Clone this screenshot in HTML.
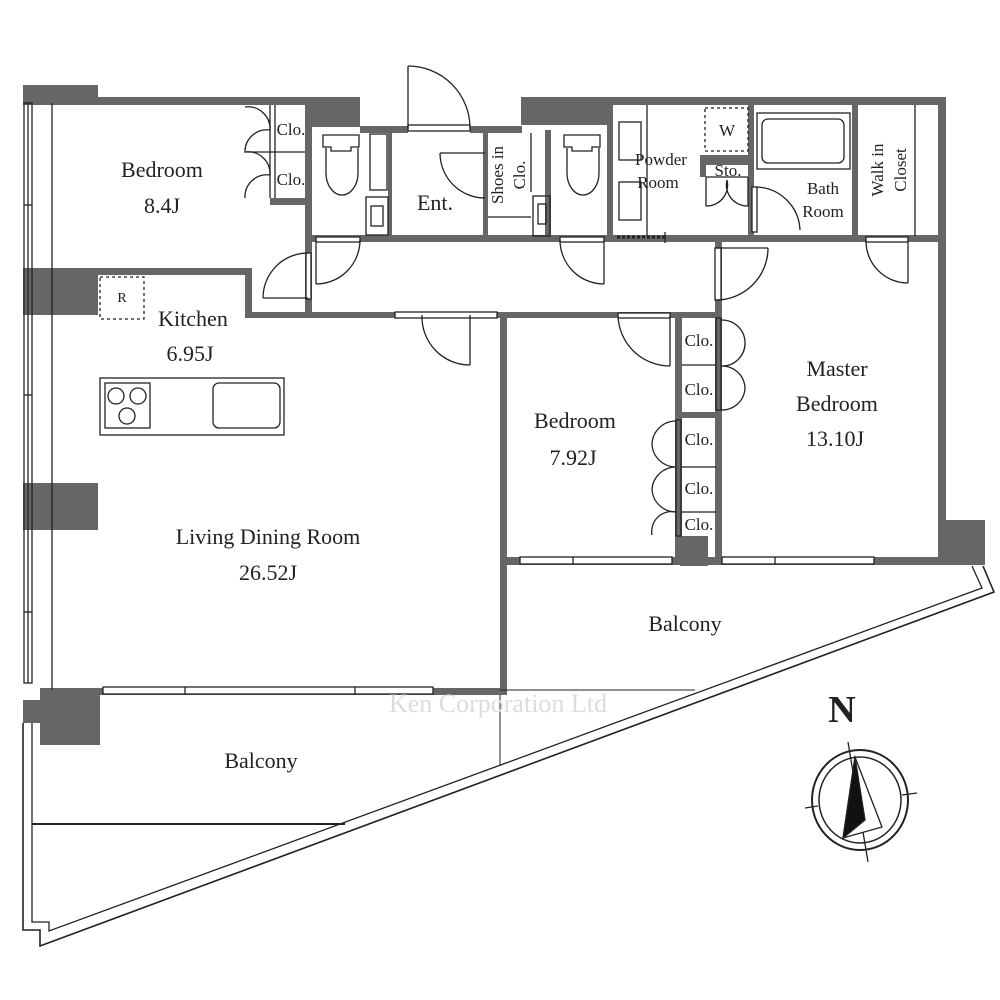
<!DOCTYPE html>
<html><head><meta charset="utf-8"><style>
html,body{margin:0;padding:0;background:#fff;}
svg{display:block;}
text{font-family:"Liberation Serif",serif;fill:#222;}
</style></head><body>
<svg width="1000" height="1000" viewBox="0 0 1000 1000" xmlns="http://www.w3.org/2000/svg">
<g fill="#666" stroke="none">
<rect x="23" y="85" width="75" height="20"/>
<rect x="55" y="97" width="305" height="8"/>
<rect x="305" y="97" width="55" height="30"/>
<rect x="360" y="126" width="48" height="7"/>
<rect x="470" y="126" width="52" height="7"/>
<rect x="521" y="97" width="425" height="8"/>
<rect x="521" y="97" width="91" height="28"/>
<rect x="938" y="97" width="8" height="465"/>
<rect x="938" y="520" width="47" height="45"/>
<rect x="23" y="268" width="75" height="47"/>
<rect x="98" y="268" width="152" height="7"/>
<rect x="245" y="268" width="7" height="50"/>
<rect x="245" y="312" width="150" height="6"/>
<rect x="497" y="312" width="223" height="6"/>
<rect x="23" y="483" width="75" height="47"/>
<rect x="40" y="688" width="60" height="57"/>
<rect x="23" y="700" width="20" height="23"/>
<rect x="305" y="125" width="7" height="193"/>
<rect x="305" y="235" width="640" height="7"/>
<rect x="388" y="127" width="4" height="110"/>
<rect x="483" y="130" width="5" height="108"/>
<rect x="545" y="130" width="6" height="108"/>
<rect x="607" y="103" width="6" height="135"/>
<rect x="748" y="103" width="6" height="135"/>
<rect x="852" y="103" width="6" height="135"/>
<rect x="700" y="155" width="52" height="10"/>
<rect x="700" y="155" width="6" height="22"/>
<rect x="270" y="198" width="36" height="7"/>
<rect x="715" y="238" width="7" height="80"/>
<rect x="500" y="312" width="7" height="383"/>
<rect x="675" y="312" width="7" height="253"/>
<rect x="715" y="312" width="7" height="248"/>
<rect x="675" y="412" width="45" height="6"/>
<rect x="680" y="536" width="28" height="30"/>
<rect x="500" y="557" width="445" height="8"/>
<rect x="40" y="688" width="467" height="7"/>
</g>
<g fill="none" stroke="#222" stroke-width="1.3">
<rect x="24" y="103" width="8" height="580"/>
<line x1="28" y1="103" x2="28" y2="683"/>
<line x1="52" y1="103" x2="52" y2="690"/>
<line x1="24" y1="205" x2="32" y2="205"/>
<line x1="24" y1="395" x2="32" y2="395"/>
<line x1="24" y1="612" x2="32" y2="612"/>
<polyline points="23,723 23,930 40,930 40,946 994,592 983,566" stroke-width="1.6"/>
<polyline points="32,723 32,922 49,922 49,931 982,588 972,566" stroke-width="1.3"/>
<line x1="32" y1="824" x2="345" y2="824" stroke-width="2"/>
<line x1="500" y1="695" x2="500" y2="766" stroke-width="1"/>
<line x1="500" y1="690" x2="695" y2="690" stroke-width="1"/>
<rect x="103" y="687" width="330" height="7" fill="#fff"/>
<line x1="185" y1="687" x2="185" y2="694"/><line x1="355" y1="687" x2="355" y2="694"/>
<rect x="520" y="557" width="152" height="7" fill="#fff"/>
<line x1="573" y1="557" x2="573" y2="564"/>
<rect x="722" y="557" width="152" height="7" fill="#fff"/>
<line x1="775" y1="557" x2="775" y2="564"/>
<rect x="408" y="125" width="62" height="6" fill="#fff"/>
<line x1="408" y1="128" x2="408" y2="66"/>
<path d="M408,66 A62,62 0 0 1 470,128"/>
<line x1="440" y1="153" x2="485" y2="153"/>
<path d="M440,153 A45,45 0 0 0 485,198"/>
<rect x="316" y="237" width="44" height="5" fill="#fff"/>
<line x1="316" y1="240" x2="316" y2="284"/>
<path d="M360,240 A44,44 0 0 1 316,284"/>
<rect x="560" y="237" width="44" height="5" fill="#fff"/>
<line x1="604" y1="240" x2="604" y2="284"/>
<path d="M560,240 A44,44 0 0 0 604,284"/>
<rect x="306" y="253" width="5" height="46" fill="#fff"/>
<line x1="263" y1="298" x2="308" y2="298"/>
<path d="M308,253 A45,45 0 0 0 263,298"/>
<rect x="715" y="248" width="6" height="52" fill="#fff"/>
<line x1="716" y1="248" x2="768" y2="248"/>
<path d="M768,248 A52,52 0 0 1 716,300"/>
<rect x="866" y="237" width="42" height="5" fill="#fff"/>
<line x1="908" y1="240" x2="908" y2="283"/>
<path d="M866,240 A42,42 0 0 0 908,283"/>
<rect x="395" y="312" width="102" height="6" fill="#fff"/>
<line x1="470" y1="315" x2="470" y2="365"/>
<path d="M422,315 A48,48 0 0 0 470,365"/>
<rect x="618" y="313" width="52" height="5" fill="#fff"/>
<line x1="670" y1="316" x2="670" y2="366"/>
<path d="M618,316 A52,52 0 0 0 670,366"/>
<rect x="752" y="187" width="5" height="45" fill="#fff"/>
<path d="M757,187 A45,45 0 0 1 800,230"/>
<line x1="706" y1="177" x2="748" y2="177"/>
<path d="M706,177 L706,206 A21,21 0 0 0 727,180 M748,177 L748,206 A21,21 0 0 1 727,180"/>
<line x1="617" y1="237" x2="665" y2="237" stroke-dasharray="3,2" stroke-width="3"/>
<line x1="665" y1="232" x2="665" y2="243"/>
<rect x="757" y="113" width="93" height="56"/>
<rect x="762" y="119" width="82" height="44" rx="6"/>
<line x1="915" y1="105" x2="915" y2="236"/>
<line x1="647" y1="105" x2="647" y2="236"/>
<rect x="619" y="122" width="22" height="38"/>
<rect x="619" y="182" width="22" height="38"/>
<rect x="705" y="108" width="43" height="43" stroke-dasharray="3,3"/>
<path d="M323,135 h36 v12 h-8 v4 h-20 v-4 h-8 z"/>
<path d="M326,148 v25 a16,22 0 0 0 32,0 v-25"/>
<path d="M564,135 h36 v12 h-8 v4 h-20 v-4 h-8 z"/>
<path d="M567,148 v25 a16,22 0 0 0 32,0 v-25"/>
<rect x="370" y="134" width="17" height="56"/>
<rect x="366" y="197" width="22" height="38"/>
<rect x="371" y="206" width="12" height="20"/>
<rect x="533" y="196" width="17" height="40"/>
<rect x="538" y="204" width="8" height="20"/>
<line x1="531" y1="133" x2="531" y2="192"/>
<line x1="488" y1="217" x2="531" y2="217"/>
<line x1="270" y1="105" x2="270" y2="198"/>
<line x1="275" y1="105" x2="275" y2="198"/>
<line x1="245" y1="152" x2="305" y2="152"/>
<path d="M245,107 A22,22 0 0 1 270,130 A22,22 0 0 0 245,152 A22,22 0 0 1 270,175 A22,22 0 0 0 245,198"/>
<rect x="100" y="277" width="44" height="42" stroke-dasharray="3,3"/>
<rect x="100" y="378" width="184" height="57"/>
<rect x="105" y="383" width="45" height="45"/>
<circle cx="116" cy="396" r="8"/><circle cx="138" cy="396" r="8"/><circle cx="127" cy="416" r="8"/>
<rect x="213" y="383" width="67" height="45" rx="6"/>
<rect x="716" y="318" width="5" height="92"/>
<line x1="682" y1="365" x2="716" y2="365"/>
<path d="M721,320 A23,23 0 0 1 745,342 A23,23 0 0 1 721,366 A23,23 0 0 1 745,388 A23,23 0 0 1 721,410"/>
<rect x="676" y="420" width="5" height="116"/>
<line x1="682" y1="467" x2="716" y2="467"/>
<line x1="682" y1="512" x2="716" y2="512"/>
<path d="M676,421 A24,24 0 0 0 652,445 A24,24 0 0 0 676,467 A24,24 0 0 0 652,490 A24,24 0 0 0 676,512 A20,20 0 0 0 652,535"/>
<ellipse cx="860" cy="800" rx="48" ry="50" stroke-width="2"/>
<ellipse cx="860" cy="800" rx="41" ry="43" stroke-width="1.5"/>
<line x1="848" y1="742" x2="868" y2="862"/>
<line x1="805" y1="808" x2="818" y2="806"/>
<line x1="902" y1="795" x2="917" y2="793"/>
<path d="M855,757 L843,838 L882,827 Z" fill="#fff"/>
<path d="M855,757 L843,838 L865,820 Z" fill="#111"/>
</g>
<g font-size="22" text-anchor="middle">
<text x="162" y="177">Bedroom</text>
<text x="162" y="213">8.4J</text>
<text x="193" y="326">Kitchen</text>
<text x="190" y="361">6.95J</text>
<text x="268" y="544">Living Dining Room</text>
<text x="268" y="580">26.52J</text>
<text x="575" y="428">Bedroom</text>
<text x="573" y="465">7.92J</text>
<text x="837" y="376">Master</text>
<text x="837" y="411">Bedroom</text>
<text x="835" y="446">13.10J</text>
<text x="435" y="210">Ent.</text>
<text x="685" y="631">Balcony</text>
<text x="261" y="768">Balcony</text>
</g>
<g font-size="17" text-anchor="middle">
<text x="291" y="135">Clo.</text>
<text x="291" y="185">Clo.</text>
<text x="699" y="346">Clo.</text>
<text x="699" y="395">Clo.</text>
<text x="699" y="445">Clo.</text>
<text x="699" y="494">Clo.</text>
<text x="699" y="530">Clo.</text>
<text x="661" y="165">Powder</text>
<text x="658" y="188">Room</text>
<text x="728" y="176">Sto.</text>
<text x="823" y="194">Bath</text>
<text x="823" y="217">Room</text>
<text x="727" y="136">W</text>
<text x="122" y="302" font-size="14">R</text>
<text transform="translate(503,175) rotate(-90)" x="0" y="0">Shoes in</text>
<text transform="translate(525,175) rotate(-90)" x="0" y="0">Clo.</text>
<text transform="translate(883,170) rotate(-90)" x="0" y="0">Walk in</text>
<text transform="translate(906,170) rotate(-90)" x="0" y="0">Closet</text>
</g>
<text x="498" y="712" font-size="26" text-anchor="middle" style="fill:#ddd">Ken Corporation Ltd</text>
<text x="842" y="722" font-size="38" font-weight="bold" text-anchor="middle">N</text>
</svg>
</body></html>
